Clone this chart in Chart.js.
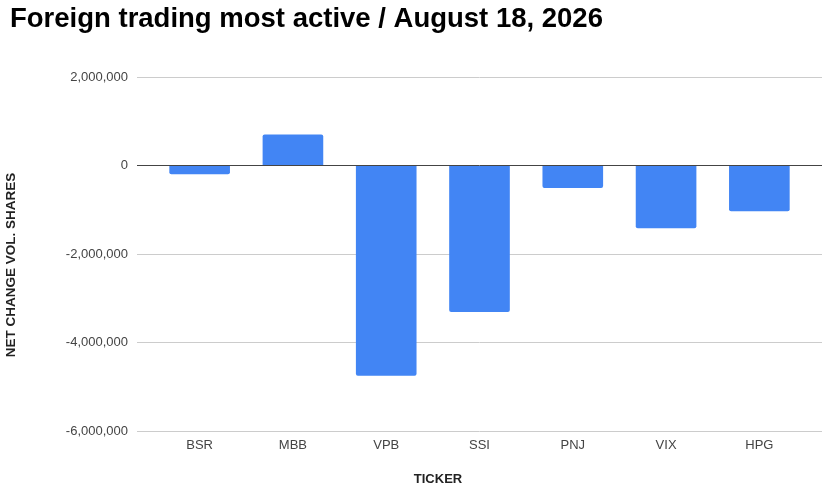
<!DOCTYPE html>
<html>
<head>
<meta charset="utf-8">
<script src="https://cdn.jsdelivr.net/npm/chart.js@4.4.1/dist/chart.umd.min.js"></script>
<style>
  html, body { margin: 0; padding: 0; background: #fff; }
  #wrap { width: 839px; height: 493px; }
</style>
</head>
<body>
<div id="wrap"><canvas id="chart"></canvas></div>
<script>
// values
const tickers = ['BSR', 'MBB', 'VPB', 'SSI', 'PNJ', 'VIX', 'HPG'];
const netChange = [-195000, 700000, -4750000, -3310000, -510000, -1420000, -1035000];
const yMin = -6000000;
const yMax = 2000000;
const yStep = 2000000;

const FONT = "'Liberation Sans', Arial, sans-serif";

// axis titles sit a little off-centre in the reference, so draw them by hand
const axisTitles = {
  id: 'axisTitles',
  afterDraw(chart) {
    const ctx = chart.ctx;
    ctx.save();
    ctx.fillStyle = '#222';
    ctx.font = 'bold 13px ' + FONT;
    ctx.textAlign = 'center';
    ctx.textBaseline = 'middle';
    ctx.fillText('TICKER', 438, 479.5);
    ctx.font = 'bold 13.5px ' + FONT;
    ctx.translate(11, 265);
    ctx.rotate(-Math.PI / 2);
    ctx.fillText('NET CHANGE VOL. SHARES', 0, 0);
    ctx.restore();
  }
};

const gridColor = (c) => (c.tick && c.tick.value === 0 ? '#444' : '#ccc');

new Chart(document.getElementById('chart'), {
  type: 'bar',
  data: {
    labels: tickers,
    datasets: [{
      data: netChange,
      backgroundColor: '#4285f4',
      borderRadius: 2,
      barPercentage: 0.65,
      categoryPercentage: 1
    }]
  },
  options: {
    responsive: true,
    maintainAspectRatio: false,
    animation: false,
    layout: { padding: { left: 10, right: 0, top: 0, bottom: 0 } },
    plugins: {
      legend: { display: false },
      tooltip: { enabled: false },
      title: {
        display: true,
        text: 'Foreign trading most active / August 18, 2026',
        align: 'start',
        color: '#000',
        font: { family: FONT, size: 27.5, weight: 'bold' },
        padding: { top: 3, bottom: 41 }
      }
    },
    scales: {
      x: {
        grid: { display: false, drawTicks: false },
        border: { display: false },
        ticks: { color: '#444', font: { family: FONT, size: 13 }, padding: 7 },
        afterFit(scale) { scale.height = 62; }
      },
      y: {
        min: yMin,
        max: yMax,
        position: 'left',
        border: { display: false },
        grid: { color: gridColor, tickColor: gridColor, tickLength: 16 },
        ticks: {
          stepSize: yStep,
          color: '#444',
          padding: 9,
          font: { family: FONT, size: 13 },
          callback: (v) => Number(v).toLocaleString('en-US')
        },
        afterFit(scale) { scale.width = 143; }
      },
      yRight: {
        min: yMin,
        max: yMax,
        position: 'right',
        border: { display: false },
        grid: { drawOnChartArea: false, color: gridColor, tickColor: gridColor, tickLength: 16 },
        ticks: { stepSize: yStep, display: false },
        afterFit(scale) { scale.width = 33; }
      }
    }
  },
  plugins: [axisTitles]
});
</script>
</body>
</html>
